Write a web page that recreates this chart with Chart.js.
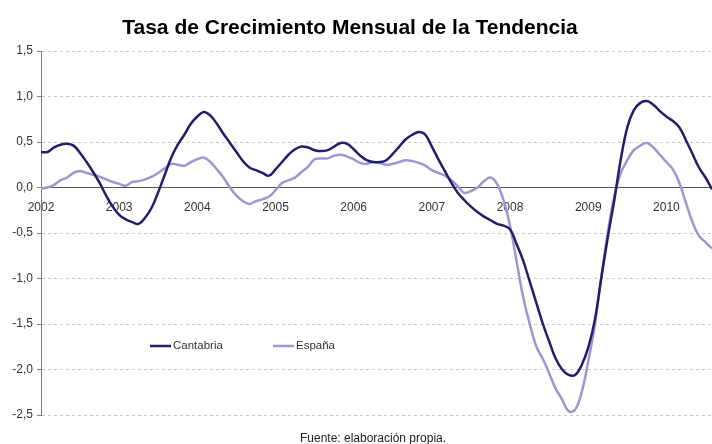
<!DOCTYPE html>
<html>
<head>
<meta charset="utf-8">
<script src="https://cdn.jsdelivr.net/npm/chart.js@4"></script>
<style>
  html, body { margin: 0; padding: 0; background: #fff; }
  #wrap { width: 712px; height: 444px; }
</style>
</head>
<body>
<div id="wrap"><canvas id="chart" width="712" height="444"></canvas></div>
<script>
// datos mensuales ene-2002 .. ago-2010
const years = ['2002', '2003', '2004', '2005', '2006', '2007', '2008', '2009', '2010'];
const labels = years.flatMap(y => ['01','02','03','04','05','06','07','08','09','10','11','12'].map(m => y + '-' + m)).slice(0, 104);

const cantabria = [
  0.39, 0.39, 0.44, 0.47, 0.48, 0.46, 0.38, 0.28, 0.17, 0.05, -0.09, -0.21,
  -0.30, -0.35, -0.38, -0.40, -0.33, -0.22, -0.05, 0.14, 0.33, 0.47, 0.58, 0.70,
  0.78, 0.83, 0.79, 0.70, 0.59, 0.49, 0.39, 0.29, 0.22, 0.19, 0.16, 0.13,
  0.20, 0.28, 0.36, 0.42, 0.45, 0.44, 0.41, 0.40, 0.41, 0.45, 0.49, 0.48,
  0.42, 0.35, 0.30, 0.28, 0.28, 0.30, 0.37, 0.45, 0.53, 0.58, 0.61, 0.58,
  0.45, 0.31, 0.18, 0.05, -0.06, -0.14, -0.21, -0.27, -0.32, -0.36, -0.40, -0.42,
  -0.46, -0.62, -0.80, -1.03, -1.26, -1.49, -1.69, -1.88, -2.00, -2.06, -2.06, -1.95,
  -1.76, -1.46, -1.00, -0.55, -0.14, 0.31, 0.66, 0.85, 0.93, 0.95, 0.91, 0.84,
  0.78, 0.73, 0.66, 0.52, 0.37, 0.22, 0.11, -0.02
];

const espana = [
  -0.01, 0.00, 0.03, 0.08, 0.11, 0.16, 0.18, 0.16, 0.14, 0.12, 0.09, 0.06,
  0.04, 0.02, 0.06, 0.07, 0.09, 0.12, 0.16, 0.21, 0.26, 0.25, 0.24, 0.28,
  0.31, 0.33, 0.28, 0.20, 0.11, 0.00, -0.09, -0.15, -0.18, -0.15, -0.13, -0.10,
  -0.03, 0.05, 0.08, 0.11, 0.17, 0.23, 0.31, 0.32, 0.32, 0.35, 0.36, 0.34,
  0.31, 0.27, 0.26, 0.28, 0.27, 0.25, 0.26, 0.28, 0.30, 0.29, 0.27, 0.24,
  0.19, 0.16, 0.13, 0.08, 0.01, -0.06, -0.04, 0.00, 0.07, 0.11, 0.04, -0.14,
  -0.42, -0.81, -1.20, -1.49, -1.74, -1.88, -2.04, -2.21, -2.33, -2.46, -2.44, -2.25,
  -1.91, -1.52, -0.98, -0.50, -0.10, 0.16, 0.30, 0.41, 0.46, 0.49, 0.44, 0.36,
  0.28, 0.20, 0.05, -0.17, -0.38, -0.53, -0.60, -0.67
];

const yTicks = [1.5, 1.0, 0.5, 0.0, -0.5, -1.0, -1.5, -2.0, -2.5];

const FONT = "'Liberation Sans', Arial, sans-serif";
const colCantabria = '#211f6b';
const colEspana = '#9c97d1';

// titulo, leyenda y fuente
const extras = {
  id: 'extras',
  afterDraw(chart) {
    const ctx = chart.ctx;
    ctx.save();
    ctx.fillStyle = '#000';
    ctx.font = 'bold 21px ' + FONT;
    ctx.textAlign = 'center';
    ctx.textBaseline = 'middle';
    ctx.fillText('Tasa de Crecimiento Mensual de la Tendencia', 350, 28);

    const items = [
      { text: 'Cantabria', color: colCantabria, x: 150 },
      { text: 'España', color: colEspana, x: 273 }
    ];
    ctx.font = '11.5px ' + FONT;
    ctx.textAlign = 'left';
    items.forEach(it => {
      ctx.strokeStyle = it.color;
      ctx.lineWidth = 2.5;
      ctx.beginPath();
      ctx.moveTo(it.x, 346);
      ctx.lineTo(it.x + 21, 346);
      ctx.stroke();
      ctx.fillStyle = '#333';
      ctx.fillText(it.text, it.x + 23, 346);
    });

    ctx.font = '12px ' + FONT;
    ctx.textAlign = 'center';
    ctx.fillStyle = '#222';
    ctx.fillText('Fuente: elaboración propia.', 373, 439);
    ctx.restore();
  }
};

new Chart(document.getElementById('chart').getContext('2d'), {
  type: 'line',
  data: {
    labels: labels,
    datasets: [
      {
        label: 'Cantabria',
        data: cantabria,
        borderColor: colCantabria,
        borderWidth: 2.5,
        pointRadius: 0,
        tension: 0.4,
        fill: false
      },
      {
        label: 'España',
        data: espana,
        borderColor: colEspana,
        borderWidth: 2.5,
        pointRadius: 0,
        tension: 0.4,
        fill: false
      }
    ]
  },
  options: {
    responsive: false,
    animation: false,
    layout: { padding: { top: 51, bottom: 29, left: 0, right: 0 } },
    plugins: {
      legend: { display: false },
      title: { display: false },
      tooltip: { enabled: false }
    },
    scales: {
      x: {
        position: { y: 0 },
        offset: false,
        afterFit: s => { s.paddingRight = 0; s.paddingLeft = 0; },
        grid: { display: false },
        border: { display: true, color: '#555', width: 1 },
        ticks: {
          autoSkip: false,
          maxRotation: 0,
          padding: 5,
          color: '#333',
          font: { family: FONT, size: 12 },
          callback: (v, i) => (i % 12 === 0 ? labels[i].slice(0, 4) : '')
        }
      },
      y: {
        min: yTicks[yTicks.length - 1],
        max: yTicks[0],
        afterFit: s => { s.width = 41; },
        afterBuildTicks: s => { s.ticks = yTicks.map(v => ({ value: v })); },
        grid: {
          color: '#c8c8c8',
          lineWidth: 1,
          tickLength: 4,
          tickColor: '#808080',
          tickBorderDash: []
        },
        border: { display: true, color: '#808080', width: 1, dash: [3, 3] },
        ticks: {
          padding: 4,
          color: '#333',
          font: { family: FONT, size: 12 },
          callback: v => v.toFixed(1).replace('.', ',')
        }
      }
    }
  },
  plugins: [extras]
});
</script>
</body>
</html>
